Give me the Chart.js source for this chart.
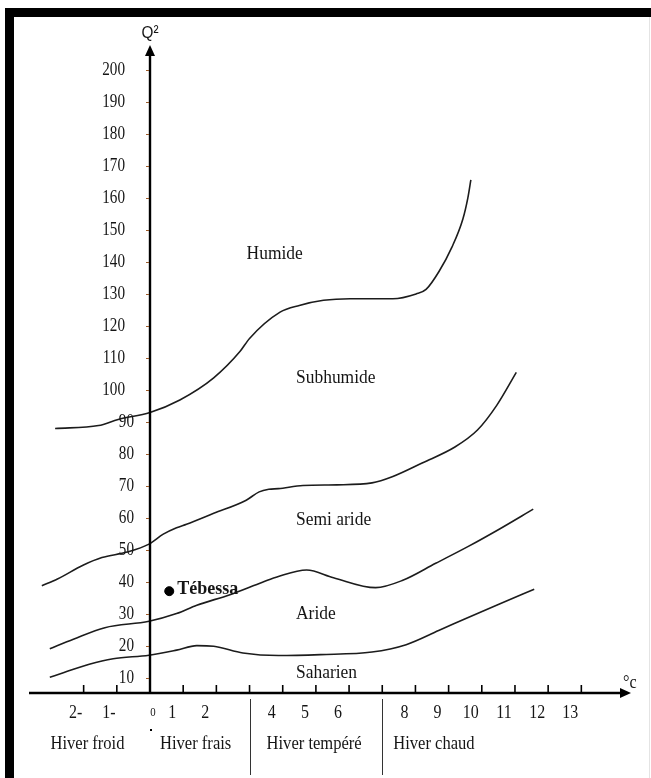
<!DOCTYPE html>
<html lang="fr">
<head>
<meta charset="utf-8">
<title>Climagramme d'Emberger - Tébessa</title>
<script src="https://cdn.jsdelivr.net/npm/chart.js@4.4.1/dist/chart.umd.min.js"></script>
<style>
  html, body { margin: 0; padding: 0; background: #fff; }
  #chart { display: block; }
</style>
</head>
<body>
<canvas id="chart" width="651" height="778"></canvas>
<script>
// Axes
const tempTicks = [-2, -1, 0, 1, 2, 3, 4, 5, 6, 7, 8, 9, 10, 11, 12, 13];
const tempLabels = ["2-", "1-", "0", "1", "2", "", "4", "5", "6", "", "8", "9", "10", "11", "12", "13"];
const q2Ticks = [10, 20, 30, 40, 50, 60, 70, 80, 90, 100, 110, 120, 130, 140, 150, 160, 170, 180, 190, 200];

// Types d'hiver (limites en °C)
const winterNames = ["Hiver froid", "Hiver frais", "Hiver tempéré", "Hiver chaud"];
const winterLimits = [3, 7];

// Etages bioclimatiques
const zoneNames = ["Humide", "Subhumide", "Semi aride", "Aride", "Saharien"];

// Limite Humide / Subhumide
const humideM = [-2.86, -1.55, -0.96, 0, 0.90, 1.92, 2.71, 3.0, 3.92, 4.5, 5.23, 6.03, 7.32, 8.02, 8.32, 8.71, 9.10, 9.43, 9.58, 9.67];
const humideQ2 = [88.0, 88.9, 90.8, 93.0, 96.9, 103.8, 112.0, 116.1, 124.3, 126.4, 128.0, 128.5, 128.5, 130.0, 131.4, 137.0, 144.6, 153.4, 160.0, 165.6];

// Limite Subhumide / Semi aride
const subhumideM = [-3.26, -2.79, -2.02, -1.45, -0.69, -0.03, 0.40, 0.80, 1.10, 1.92, 2.90, 3.29, 3.58, 3.87, 4.61, 5.63, 6.69, 7.32, 8.22, 9.19, 9.87, 10.45, 11.04];
const subhumideQ2 = [38.9, 41.0, 45.3, 47.7, 49.4, 51.9, 55.0, 57.0, 58.1, 61.5, 65.6, 68.2, 69.0, 69.2, 70.2, 70.4, 71.0, 73.0, 77.3, 82.2, 87.5, 95.2, 105.5];

// Limite Semi aride / Aride
const semiAridM = [-3.02, -2.31, -1.36, -0.03, 0.80, 1.41, 2.41, 3.39, 3.87, 4.72, 5.53, 6.80, 7.62, 8.61, 9.58, 10.55, 11.55];
const semiAridQ2 = [19.2, 22.2, 25.8, 27.8, 30.2, 32.8, 36.1, 40.0, 41.8, 43.8, 41.4, 38.3, 40.6, 45.9, 51.1, 56.7, 62.8];

// Limite Aride / Saharien
const arideM = [-3.02, -2.59, -1.83, -1.11, -0.03, 0.80, 1.41, 1.92, 2.80, 3.87, 5.14, 6.69, 7.72, 8.70, 9.59, 10.55, 11.58];
const arideQ2 = [10.3, 11.8, 14.4, 16.1, 17.2, 18.8, 20.2, 20.0, 17.9, 17.1, 17.4, 18.2, 20.5, 24.9, 29.0, 33.3, 37.8];

// Station
const stationName = "Tébessa";
const stationM = 0.58;
const stationQ2 = 37.2;

const toPoints = (xs, ys) => xs.map((x, i) => ({ x, y: ys[i] }));

const curve = (label, xs, ys) => ({
  label,
  data: toPoints(xs, ys),
  showLine: true,
  borderColor: "#1c1c1c",
  borderWidth: 1.6,
  pointRadius: 0,
  cubicInterpolationMode: "monotone",
  fill: false
});

const SERIF = '"Liberation Serif", "Times New Roman", serif';

// texte avec compression horizontale (comme sur le document)
const drawText = (ctx, s, x, y, font, align, sx) => {
  ctx.save();
  ctx.font = font;
  ctx.textAlign = align;
  ctx.textBaseline = "middle";
  ctx.fillStyle = "#151515";
  ctx.translate(x, y);
  ctx.scale(sx, 1);
  ctx.fillText(s, 0, 0);
  ctx.restore();
};

const embergerPlugin = {
  id: "emberger",
  beforeDraw(chart) {
    const ctx = chart.ctx;
    ctx.save();
    ctx.fillStyle = "#fff";
    ctx.fillRect(0, 0, chart.width, chart.height);
    // cadre noir
    ctx.fillStyle = "#000";
    ctx.fillRect(5, 8, chart.width - 5, 9);
    ctx.fillRect(5, 8, 9, chart.height - 8);
    ctx.fillStyle = "#e4e4e4";
    ctx.fillRect(chart.width - 2, 17, 1, chart.height - 17);
    ctx.restore();
  },
  afterDatasetsDraw(chart) {
    const ctx = chart.ctx;
    const xs = chart.scales.x;
    const ys = chart.scales.y;
    const area = chart.chartArea;
    const x0 = xs.getPixelForValue(0);
    const yb = area.bottom;

    ctx.save();
    ctx.strokeStyle = "#000";
    ctx.fillStyle = "#000";

    // axe Q2
    ctx.lineWidth = 2.4;
    ctx.beginPath();
    ctx.moveTo(x0, yb);
    ctx.lineTo(x0, area.top + 8);
    ctx.stroke();
    ctx.beginPath();
    ctx.moveTo(x0, area.top);
    ctx.lineTo(x0 - 5, area.top + 11);
    ctx.lineTo(x0 + 5, area.top + 11);
    ctx.closePath();
    ctx.fill();

    // axe des temperatures
    ctx.beginPath();
    ctx.moveTo(area.left, yb);
    ctx.lineTo(area.right - 8, yb);
    ctx.stroke();
    ctx.beginPath();
    ctx.moveTo(area.right, yb);
    ctx.lineTo(area.right - 11, yb - 5);
    ctx.lineTo(area.right - 11, yb + 5);
    ctx.closePath();
    ctx.fill();

    // graduations Q2
    ctx.lineWidth = 1;
    ctx.strokeStyle = "#9a5a2a";
    q2Ticks.forEach((v) => {
      const py = Math.round(ys.getPixelForValue(v)) + 0.5;
      ctx.beginPath();
      ctx.moveTo(x0 - 4, py);
      ctx.lineTo(x0 - 1, py);
      ctx.stroke();
      const s = String(v);
      drawText(ctx, s, x0 - (s.length > 2 ? 25 : 16), py, "19px " + SERIF, "right", 0.8);
    });

    // graduations temperature
    ctx.strokeStyle = "#000";
    ctx.lineWidth = 1.6;
    tempTicks.forEach((v, i) => {
      const px = xs.getPixelForValue(v);
      if (v !== 0) {
        ctx.beginPath();
        ctx.moveTo(px, yb - 8);
        ctx.lineTo(px, yb + 1);
        ctx.stroke();
      }
      const s = tempLabels[i];
      if (!s) return;
      if (v === 0) {
        drawText(ctx, s, px + 3, yb + 20, "12px " + SERIF, "center", 0.9);
        ctx.fillRect(px, yb + 36, 2, 2);
      } else {
        drawText(ctx, s, px - (v < 0 ? 8 : 11), yb + 20, "19px " + SERIF, "center", 0.84);
      }
    });

    // separations des types d'hiver
    ctx.lineWidth = 1;
    ctx.strokeStyle = "#333";
    winterLimits.forEach((v) => {
      const px = Math.round(xs.getPixelForValue(v)) + 0.5;
      ctx.beginPath();
      ctx.moveTo(px, yb + 6);
      ctx.lineTo(px, yb + 82);
      ctx.stroke();
    });
    const winterStart = [xs.getPixelForValue(-3), x0 + 10, xs.getPixelForValue(winterLimits[0]) + 17, xs.getPixelForValue(winterLimits[1]) + 11];
    winterNames.forEach((s, i) => {
      drawText(ctx, s, winterStart[i], yb + 51, "18px " + SERIF, "left", 0.92);
    });

    // noms des etages
    const zonePos = [[2.91, 142.5], [4.4, 103.6], [4.4, 59.2], [4.4, 30], [4.4, 11.7]];
    zoneNames.forEach((s, i) => {
      drawText(ctx, s, xs.getPixelForValue(zonePos[i][0]), ys.getPixelForValue(zonePos[i][1]), "18px " + SERIF, "left", 0.97);
    });

    // station
    drawText(ctx, stationName, xs.getPixelForValue(stationM) + 8, ys.getPixelForValue(stationQ2) - 2, "bold 18px " + SERIF, "left", 1);

    // titres des axes
    drawText(ctx, "Q²", x0, area.top - 12, '17px "Liberation Sans", Arial, sans-serif', "center", 0.9);
    drawText(ctx, "°c", area.right - 8, yb - 10, "18px " + SERIF, "left", 0.9);

    ctx.restore();
  }
};

new Chart(document.getElementById("chart"), {
  type: "scatter",
  data: {
    datasets: [
      curve("Humide / Subhumide", humideM, humideQ2),
      curve("Subhumide / Semi aride", subhumideM, subhumideQ2),
      curve("Semi aride / Aride", semiAridM, semiAridQ2),
      curve("Aride / Saharien", arideM, arideQ2),
      {
        label: stationName,
        data: [{ x: stationM, y: stationQ2 }],
        pointRadius: 4.5,
        pointBackgroundColor: "#000",
        pointBorderColor: "#000"
      }
    ]
  },
  options: {
    responsive: false,
    animation: false,
    layout: { padding: { left: 29, right: 20, top: 45, bottom: 85 } },
    scales: {
      x: { type: "linear", min: -3.647, max: 14.497, display: false },
      y: { type: "linear", min: 5.41, max: 207.71, display: false }
    },
    plugins: {
      legend: { display: false },
      tooltip: { enabled: false }
    }
  },
  plugins: [embergerPlugin]
});
</script>
</body>
</html>
